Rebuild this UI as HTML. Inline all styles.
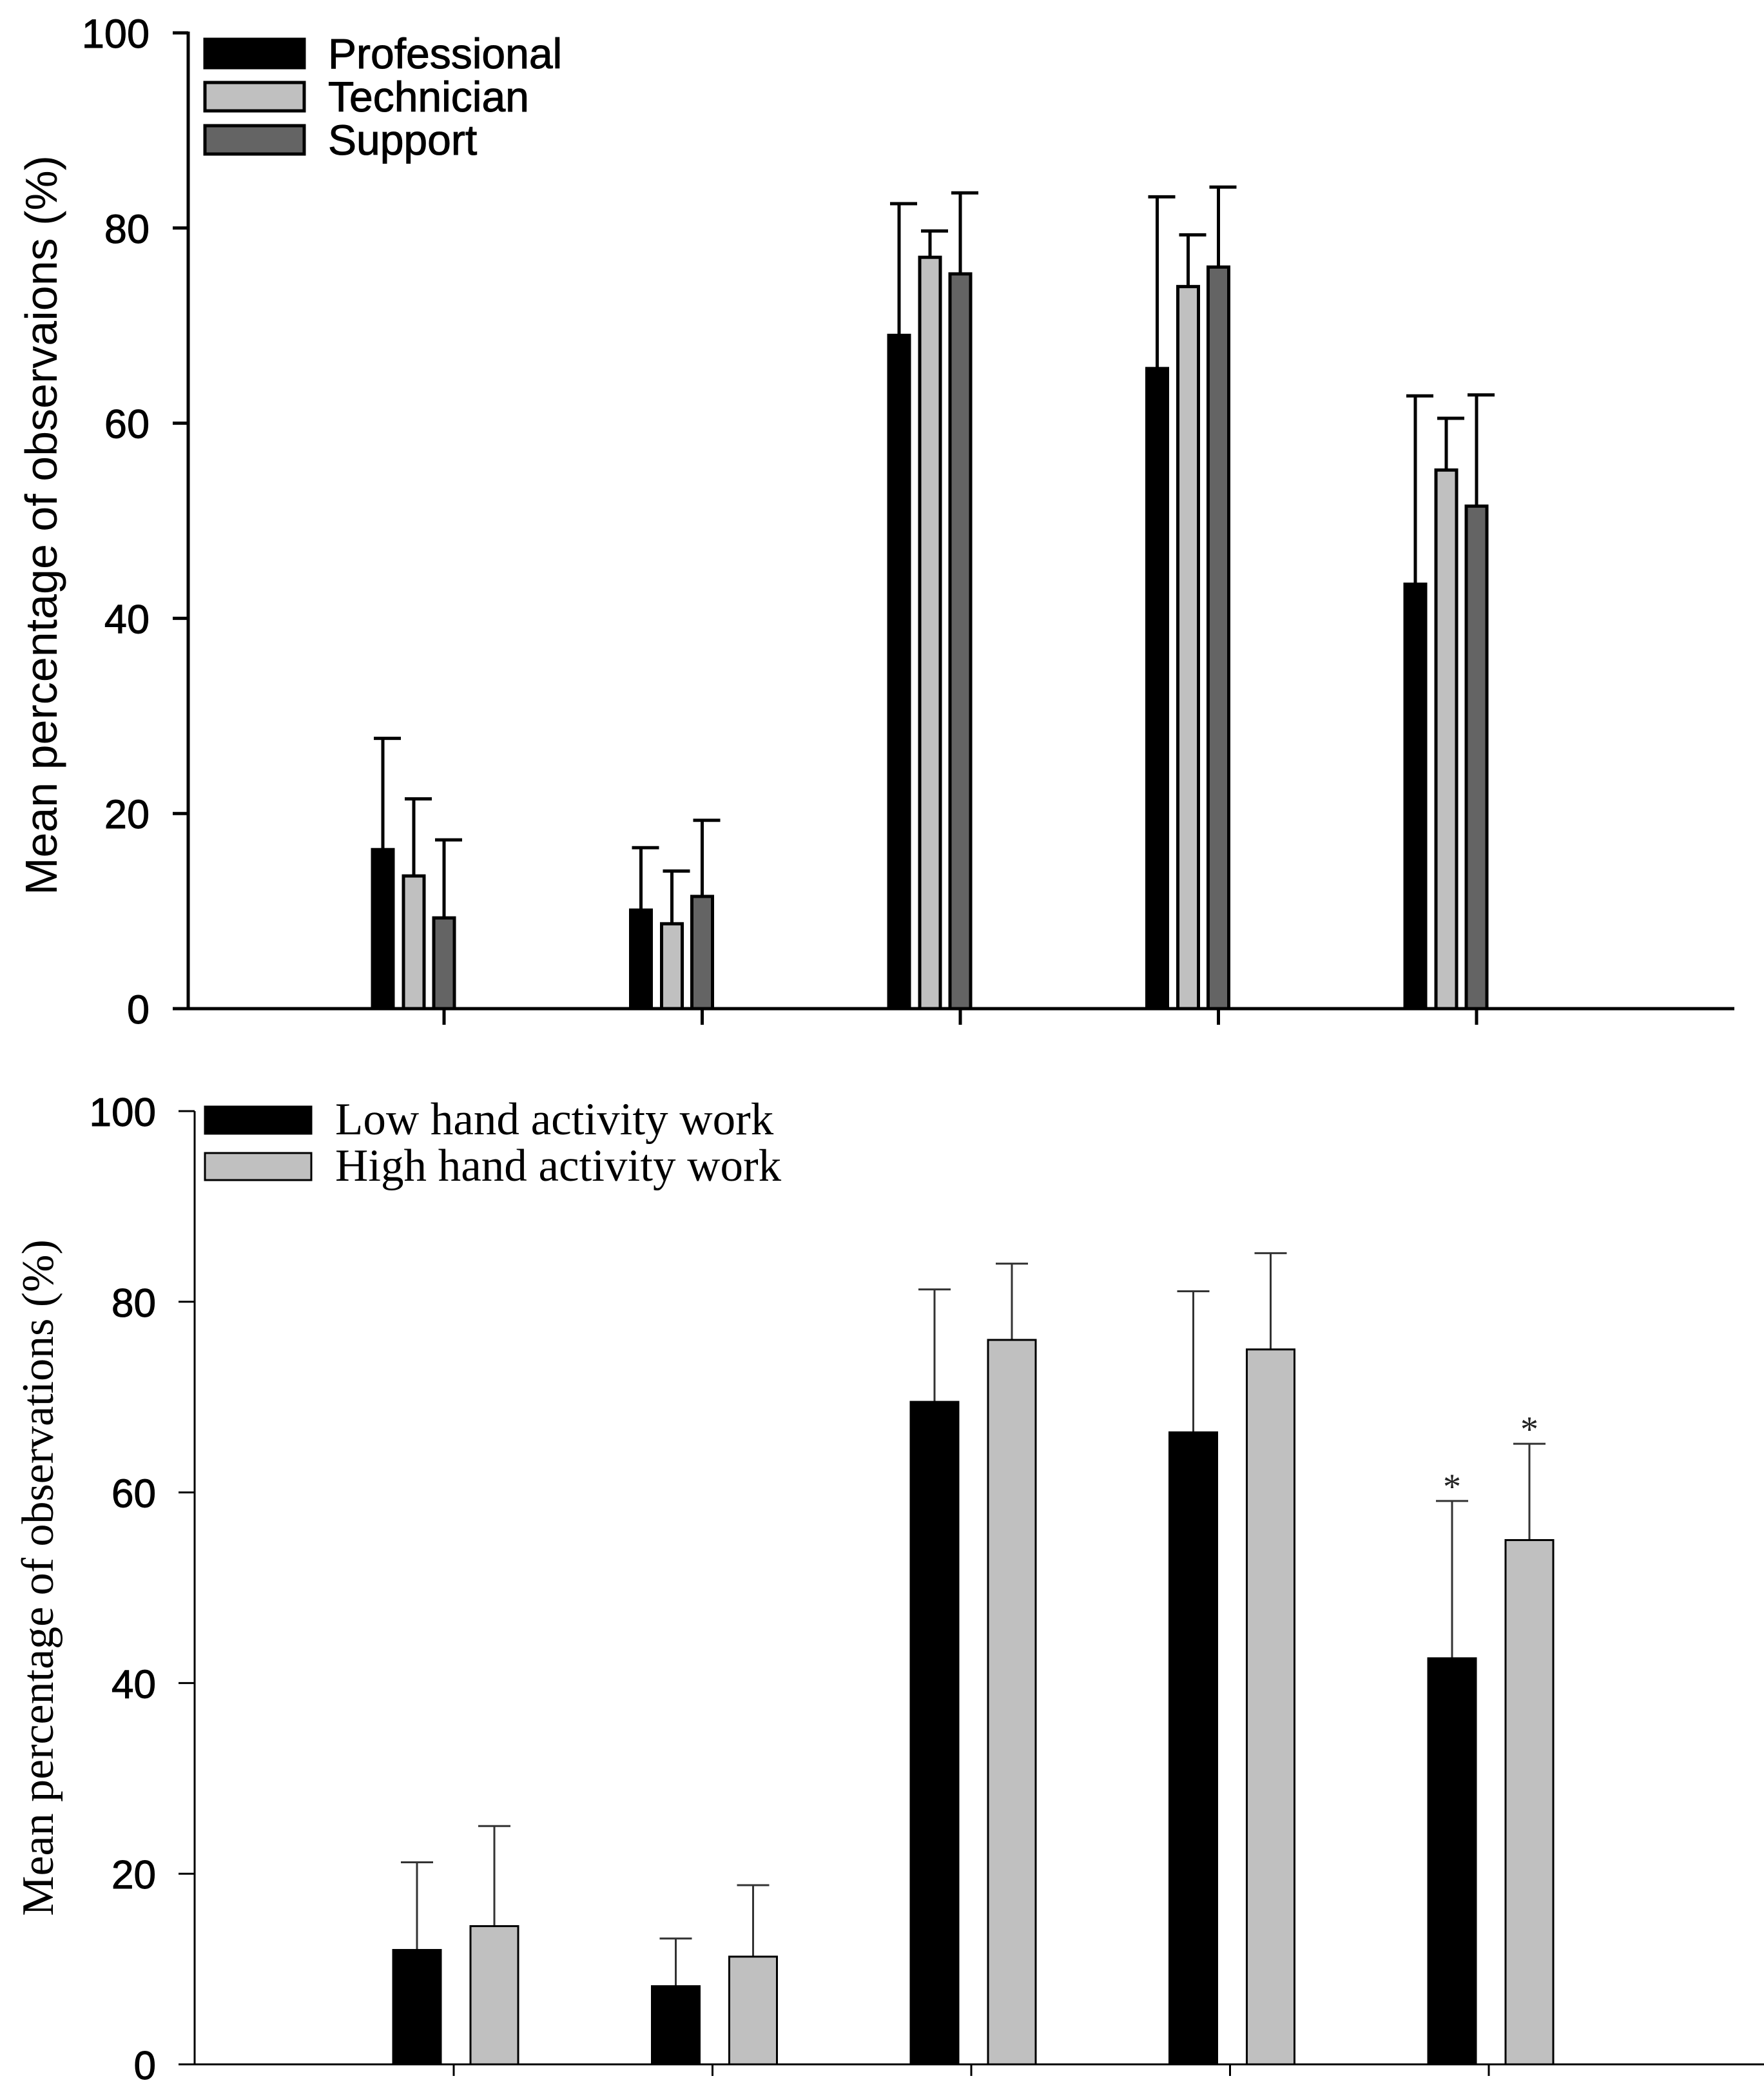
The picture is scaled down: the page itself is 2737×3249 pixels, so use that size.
<!DOCTYPE html>
<html><head><meta charset="utf-8"><style>
html,body{margin:0;padding:0;background:#fff;}
svg{display:block;}
</style></head><body>
<svg id="fig" width="2737" height="3249" viewBox="0 0 2737 3249" xmlns="http://www.w3.org/2000/svg">
<g id="top"></g>
<g id="bot"></g>
</svg>
<script>
// ---- Top chart data ----
const topCategories = ["G1","G2","G3","G4","G5"];
const topSeries = ["Professional","Technician","Support"];
const topProfessional = [16.3, 10.1, 69.0, 65.6, 43.5];
const topProfessionalErr = [27.7, 16.5, 82.5, 83.2, 62.8];
const topTechnician = [13.6, 8.7, 77.0, 74.0, 55.2];
const topTechnicianErr = [21.5, 14.1, 79.7, 79.3, 60.5];
const topSupport = [9.3, 11.5, 75.3, 76.0, 51.5];
const topSupportErr = [17.3, 19.3, 83.6, 84.2, 62.9];
const topTicks = [0, 20, 40, 60, 80, 100];
// ---- Bottom chart data ----
const botCategories = ["G1","G2","G3","G4","G5"];
const botSeries = ["Low hand activity work","High hand activity work"];
const botLow = [12.0, 8.2, 69.5, 66.3, 42.6];
const botLowErr = [21.2, 13.2, 81.3, 81.1, 59.1];
const botHigh = [14.5, 11.3, 76.0, 75.0, 55.0];
const botHighErr = [25.0, 18.8, 84.0, 85.1, 65.1];
const botStars = [false, false, false, false, true];
const botTicks = [0, 20, 40, 60, 80, 100];

const NS = "http://www.w3.org/2000/svg";
function mk(parent, tag, attrs, text){
  const e = document.createElementNS(NS, tag);
  for (const k in attrs) e.setAttribute(k, attrs[k]);
  if (text !== undefined) e.textContent = text;
  parent.appendChild(e);
  return e;
}

// ===== TOP =====
(function(){
  const g = document.getElementById('top');
  const y0 = 1565, y100 = 51, ax = 292;
  const y = v => y0 - (y0 - y100) * v / 100;
  const x = i => 689 + i * 400.5;
  const sw = 5;
  const yAxis = mk(g,'line',{x1:ax,y1:y100-2,x2:ax,y2:y0,stroke:'#000','stroke-width':sw});
  
  
  const xAxis = mk(g,'line',{x1:ax-24,y1:y0,x2:2691,y2:y0,stroke:'#000','stroke-width':sw});
  
  
  topTicks.forEach(t=>{
    const tk = mk(g,'line',{x1:ax-24,y1:y(t),x2:ax,y2:y(t),stroke:'#000','stroke-width':sw});
    
    
    const tl = mk(g,'text',{x:232,y:y(t)+23,'text-anchor':'end','font-family':'Liberation Sans, sans-serif','font-size':63,fill:'#000',stroke:'#000','stroke-width':1}, String(t));
    
    
  });
  topCategories.forEach((c,i)=>{
    const tk = mk(g,'line',{x1:x(i),y1:y0,x2:x(i),y2:y0+25,stroke:'#000','stroke-width':sw});
    
    
  });
  const ttl = mk(g,'text',{x:0,y:0,'text-anchor':'middle','font-family':'Liberation Sans, sans-serif','font-size':70,fill:'#000',transform:'translate(88,815) rotate(-90)'},'Mean percentage of observaions (%)');
  
  
  const vals = [topProfessional, topTechnician, topSupport];
  const errs = [topProfessionalErr, topTechnicianErr, topSupportErr];
  const fills = ['#000','#c0c0c0','#646464'];
  const offs = [-95, -47, 0];
  const bw = 32;
  vals.forEach((arr,s)=>{
    arr.forEach((v,i)=>{
      const cx = x(i) + offs[s];
      const e = errs[s][i];
      const st = mk(g,'line',{x1:cx,y1:y(v),x2:cx,y2:y(e),stroke:'#000','stroke-width':5});
      
      
      const cp = mk(g,'line',{x1:cx-14,y1:y(e),x2:cx+28,y2:y(e),stroke:'#000','stroke-width':5});
      
      
      const b = mk(g,'rect',{x:cx-bw/2,y:y(v),width:bw,height:y0-y(v),fill:fills[s],stroke:'#000','stroke-width':5});
      
      
    });
  });
  const ly = [83,150,217];
  topSeries.forEach((s,k)=>{
    const lr = mk(g,'rect',{x:318,y:ly[k]-22,width:154,height:44,fill:fills[k],stroke:'#000','stroke-width':5});
    
    
    const lt = mk(g,'text',{x:509,y:ly[k]+23,'font-family':'Liberation Sans, sans-serif','font-size':66,fill:'#000',stroke:'#000','stroke-width':1}, s);
    
    
  });
})();

// ===== BOTTOM =====
(function(){
  const g = document.getElementById('bot');
  const y0 = 3203, y100 = 1724, ax = 302;
  const y = v => y0 - (y0 - y100) * v / 100;
  const x = i => 704 + i * 401.5;
  const yAxis = mk(g,'line',{x1:ax,y1:y100,x2:ax,y2:y0,stroke:'#000','stroke-width':3});
  
  
  const xAxis = mk(g,'line',{x1:ax-20,y1:y0,x2:2737,y2:y0,stroke:'#000','stroke-width':3});
  
  
  botTicks.forEach(t=>{
    const tk = mk(g,'line',{x1:ax-25,y1:y(t),x2:ax,y2:y(t),stroke:'#000','stroke-width':3});
    
    
    const tl = mk(g,'text',{x:242,y:y(t)+23,'text-anchor':'end','font-family':'Liberation Sans, sans-serif','font-size':62,fill:'#000',stroke:'#000','stroke-width':1}, String(t));
    
    
  });
  botCategories.forEach((c,i)=>{
    const tk = mk(g,'line',{x1:x(i),y1:y0,x2:x(i),y2:y0+18,stroke:'#000','stroke-width':3});
    
    
  });
  const ttl = mk(g,'text',{x:0,y:0,'text-anchor':'middle','font-family':'Liberation Serif, serif','font-size':70,fill:'#000',transform:'translate(82,2448) rotate(-90)'},'Mean percentage of observations (%)');
  
  
  const vals = [botLow, botHigh];
  const errs = [botLowErr, botHighErr];
  const fills = ['#000','#c0c0c0'];
  const offs = [-57, 63];
  const bw = 74;
  vals.forEach((arr,s)=>{
    arr.forEach((v,i)=>{
      const cx = x(i) + offs[s];
      const e = errs[s][i];
      const st = mk(g,'line',{x1:cx,y1:y(v),x2:cx,y2:y(e),stroke:'#333','stroke-width':3});
      
      
      const cp = mk(g,'line',{x1:cx-25,y1:y(e),x2:cx+25,y2:y(e),stroke:'#333','stroke-width':3});
      
      
      const b = mk(g,'rect',{x:cx-bw/2,y:y(v),width:bw,height:y0-y(v),fill:fills[s],stroke:'#000','stroke-width':3});
      
      
      if (botStars[i]) {
        const a = mk(g,'text',{x:cx,y:y(e)-4,'text-anchor':'middle','font-family':'Liberation Serif, serif','font-size':56,fill:'#222'},'*');
        
        
      }
    });
  });
  const ly = [1738,1810];
  botSeries.forEach((s,k)=>{
    const lr = mk(g,'rect',{x:318,y:ly[k]-21,width:165,height:42,fill:fills[k],stroke:'#000','stroke-width':3});
    
    
    const lt = mk(g,'text',{x:520,y:ly[k]+22,'font-family':'Liberation Serif, serif','font-size':71,fill:'#000'}, s);
    
    
  });
})();
</script>
</body></html>
